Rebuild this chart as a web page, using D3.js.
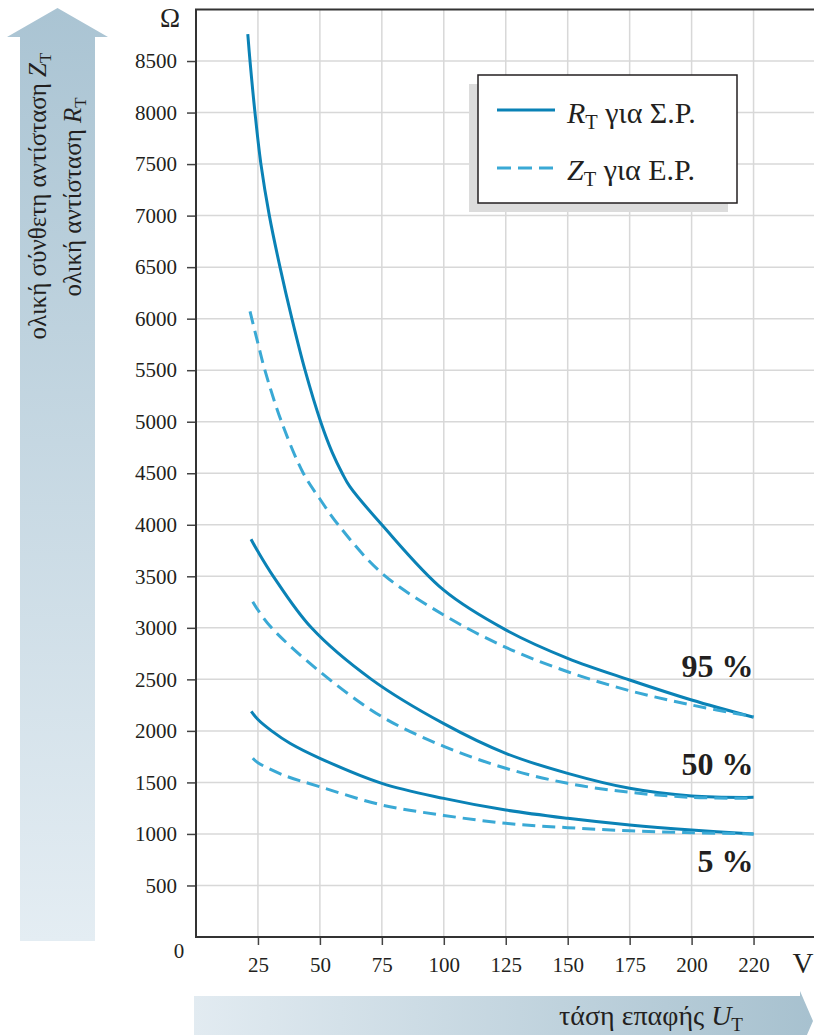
<!DOCTYPE html>
<html>
<head>
<meta charset="utf-8">
<script src="https://cdn.jsdelivr.net/npm/d3@7"></script>
<style>
  html, body { margin: 0; padding: 0; background: #fff; }
  svg { display: block; }
</style>
</head>
<body>
<svg id="chart" width="814" height="1035"></svg>
<script>
// Voltage ticks (V) — equally spaced on the axis, last one is 220
const xTicks = [25, 50, 75, 100, 125, 150, 175, 200, 220];
// Resistance ticks (Ω)
const yTicks = [500, 1000, 1500, 2000, 2500, 3000, 3500, 4000, 4500, 5000, 5500, 6000, 6500, 7000, 7500, 8000, 8500];

// Total body resistance R_T for DC, [U in V, Ω]
const rt95 = [[20.9, 8760], [21.8, 8500], [23.8, 8000], [26.2, 7500], [29.6, 7000], [33.9, 6500], [38.7, 6000], [44.0, 5500], [50.3, 5000], [55, 4700], [59, 4500], [62.1, 4370], [75, 4000], [100, 3365], [125, 2980], [150, 2704], [175, 2494], [200, 2300], [220, 2133]];
const rt50 = [[22.2, 3860], [25, 3740], [31.2, 3500], [46.6, 3000], [70.8, 2500], [100, 2070], [125, 1782], [150, 1588], [175, 1443], [200, 1368], [220, 1355]];
const rt5 = [[22.3, 2190], [25, 2110], [30.5, 2000], [37.9, 1880], [50, 1734], [75, 1491], [100, 1345], [125, 1232], [150, 1152], [175, 1087], [200, 1038], [220, 1000]];

// Total body impedance Z_T for AC, [U in V, Ω]
const zt95 = [[21.8, 6070], [25, 5760], [27.8, 5500], [34.5, 5000], [43.3, 4500], [50, 4250], [57.4, 4000], [75, 3530], [100, 3124], [125, 2811], [150, 2574], [175, 2390], [200, 2251], [220, 2138]];
const zt50 = [[22.9, 3254], [25, 3173], [30.5, 3000], [50, 2574], [75, 2138], [100, 1850], [125, 1637], [150, 1491], [175, 1404], [200, 1355], [220, 1346]];
const zt5 = [[22.9, 1734], [25, 1691], [35.2, 1572], [50, 1458], [75, 1281], [100, 1180], [125, 1103], [150, 1061], [175, 1031], [200, 1012], [220, 1000]];

const percentLabels = [["95 %", 677], ["50 %", 775], ["5 %", 872]];

const svg = d3.select("#chart");
const W = 814;
const plotLeft = 196, plotTop = 9.5, plotBottom = 937, step = 61.95;
const SERIF = "'Liberation Serif'";

const COL_SOLID = "#0a82b6";
const COL_DASH = "#3aa9d5";
const GRID = "#d8d8d8";
const INK = "#231f20";

// Axis scales: x is piecewise with equal spacing per tick
const xDomain = [0].concat(xTicks);
const x = d3.scaleLinear().domain(xDomain).range(xDomain.map((d, i) => plotLeft + i * step));
const y = d3.scaleLinear().domain([0, 9000]).range([plotBottom, plotTop]);

const defs = svg.append("defs");
const gv = defs.append("linearGradient").attr("id", "gv").attr("x1", 0).attr("y1", 1).attr("x2", 0).attr("y2", 0);
gv.append("stop").attr("offset", 0).attr("stop-color", "#e4edf3");
gv.append("stop").attr("offset", 1).attr("stop-color", "#aac4d3");
const gh = defs.append("linearGradient").attr("id", "gh").attr("x1", 0).attr("y1", 0).attr("x2", 1).attr("y2", 0);
gh.append("stop").attr("offset", 0).attr("stop-color", "#e2ebf1");
gh.append("stop").attr("offset", 1).attr("stop-color", "#a7c1cf");

// Text helper: italic symbol with a lowered roman subscript
function symbolSub(sel, sym, sub, size) {
  sel.append("tspan").attr("font-style", "italic").text(sym);
  sel.append("tspan").attr("font-size", size * 0.68).attr("dy", size * 0.2).text(sub);
}

// Vertical arrow with the y-axis title
svg.append("path")
  .attr("d", "M20,941 L20,37 L7,37 L57.5,8 L108,37 L95,37 L95,941 Z")
  .attr("fill", "url(#gv)");
const t1 = svg.append("text").attr("transform", "translate(46,196) rotate(-90)")
  .attr("text-anchor", "middle").attr("font-size", 25).attr("fill", INK);
t1.append("tspan").text("ολική σύνθετη αντίσταση ");
symbolSub(t1, "Z", "T", 25);
const t2 = svg.append("text").attr("transform", "translate(81,197) rotate(-90)")
  .attr("text-anchor", "middle").attr("font-size", 25).attr("fill", INK);
t2.append("tspan").text("ολική αντίσταση ");
symbolSub(t2, "R", "T", 25);

// Horizontal arrow with the x-axis title
svg.append("path")
  .attr("d", "M194,996 L800,996 L800,991 L813,1021 L800,1051 L800,1046 L194,1046 Z")
  .attr("fill", "url(#gh)");
const t3 = svg.append("text").attr("x", 743).attr("y", 1025)
  .attr("text-anchor", "end").attr("font-size", 28).attr("fill", INK);
t3.append("tspan").text("τάση επαφής ");
symbolSub(t3, "U", "T", 28);

// Grid
svg.append("g").selectAll("line").data(yTicks).join("line")
  .attr("x1", plotLeft).attr("x2", W).attr("y1", d => y(d)).attr("y2", d => y(d))
  .attr("stroke", GRID).attr("stroke-width", 1.5);
svg.append("g").selectAll("line").data(xTicks).join("line")
  .attr("x1", d => x(d)).attr("x2", d => x(d)).attr("y1", plotTop).attr("y2", plotBottom)
  .attr("stroke", GRID).attr("stroke-width", 1.5);

// Axes
const yAxis = d3.axisLeft(y).tickValues(yTicks).tickSize(9).tickPadding(10).tickFormat(d3.format("d"));
const gy = svg.append("g").attr("transform", `translate(${plotLeft},0)`).call(yAxis);
gy.select(".domain").remove();
gy.selectAll(".tick line").attr("stroke", "#444").attr("stroke-width", 1.5);
gy.selectAll(".tick text").attr("font-size", 21).attr("fill", INK);

const xAxis = d3.axisBottom(x).tickValues(xTicks).tickSize(8).tickPadding(12).tickFormat(d3.format("d"));
const gx = svg.append("g").attr("transform", `translate(0,${plotBottom})`).call(xAxis);
gx.select(".domain").remove();
gx.selectAll(".tick line").attr("stroke", "#444").attr("stroke-width", 1.5);
gx.selectAll(".tick text").attr("font-size", 21).attr("fill", INK);

// Frame: left, bottom and top lines
svg.append("path")
  .attr("d", `M${W},${plotTop} L${plotLeft},${plotTop} L${plotLeft},${plotBottom} L${W},${plotBottom}`)
  .attr("fill", "none").attr("stroke", "#333").attr("stroke-width", 2);

// Axis unit labels and origin
svg.append("text").attr("x", 179).attr("y", 958).attr("text-anchor", "middle")
  .attr("font-size", 21).attr("fill", INK).text("0");
svg.append("text").attr("x", 170).attr("y", 27).attr("text-anchor", "middle")
  .attr("font-size", 27).attr("fill", INK).text("Ω");
svg.append("text").attr("x", 803).attr("y", 973).attr("text-anchor", "middle")
  .attr("font-size", 29).attr("fill", INK).text("V");

// Curves
const line = d3.line().x(d => x(d[0])).y(d => y(d[1])).curve(d3.curveCatmullRom.alpha(0.5));
const curves = [
  { data: rt95, dash: false }, { data: rt50, dash: false }, { data: rt5, dash: false },
  { data: zt95, dash: true }, { data: zt50, dash: true }, { data: zt5, dash: true }
];
svg.append("g").selectAll("path").data(curves).join("path")
  .attr("d", d => line(d.data))
  .attr("fill", "none")
  .attr("stroke", d => d.dash ? COL_DASH : COL_SOLID)
  .attr("stroke-width", 3)
  .attr("stroke-dasharray", d => d.dash ? "13,7" : null);

// Percentile labels
svg.append("g").selectAll("text").data(percentLabels).join("text")
  .attr("x", x(220)).attr("y", d => d[1]).attr("text-anchor", "end")
  .attr("font-size", 32).attr("font-weight", "bold").attr("fill", INK)
  .text(d => d[0]);

// Legend
const lg = svg.append("g");
lg.append("rect").attr("x", 469).attr("y", 84).attr("width", 259).attr("height", 128).attr("fill", "#dcdcdc");
lg.append("rect").attr("x", 478).attr("y", 75).attr("width", 259).attr("height", 128)
  .attr("fill", "#fff").attr("stroke", INK).attr("stroke-width", 1.5);
lg.append("line").attr("x1", 497).attr("x2", 555).attr("y1", 110).attr("y2", 110)
  .attr("stroke", COL_SOLID).attr("stroke-width", 3);
lg.append("line").attr("x1", 497).attr("x2", 555).attr("y1", 168).attr("y2", 168)
  .attr("stroke", COL_DASH).attr("stroke-width", 3).attr("stroke-dasharray", "14,7");
const l1 = lg.append("text").attr("x", 567).attr("y", 123).attr("font-size", 30).attr("fill", INK);
symbolSub(l1, "R", "T", 30);
l1.append("tspan").attr("dy", -30 * 0.2).text(" για Σ.Ρ.");
const l2 = lg.append("text").attr("x", 567).attr("y", 180).attr("font-size", 30).attr("fill", INK);
symbolSub(l2, "Z", "T", 30);
l2.append("tspan").attr("dy", -30 * 0.2).text(" για Ε.Ρ.");

// Serif typeface for every label
svg.selectAll("text").style("font-family", SERIF);
</script>
</body>
</html>
